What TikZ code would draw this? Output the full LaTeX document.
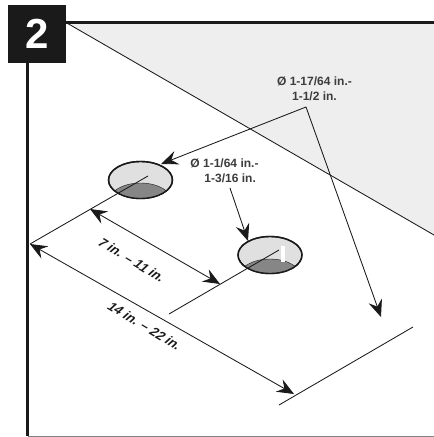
\documentclass[tikz,border=0pt]{standalone}
\usepackage{fontspec}
\setmainfont{Liberation Sans}
\usetikzlibrary{arrows.meta,shapes.geometric}

\definecolor{ink}{HTML}{1A1A1A}
\definecolor{wallgray}{HTML}{EEEEEE}
\definecolor{holegray}{HTML}{E0E0E0}
\definecolor{shadegray}{HTML}{868686}

\tikzset{
  wall/.style={line width=2.6pt,draw=ink},
  thin line/.style={line width=0.85pt,draw=ink},
  dim/.style={thin line,-{Stealth[length=17pt,width=14pt,inset=6pt]}},
  dimboth/.style={thin line,{Stealth[length=17pt,width=14pt,inset=6pt]}-{Stealth[length=17pt,width=14pt,inset=6pt]}},
  hole/.style={ellipse,draw=ink,line width=1.4pt,minimum width=64pt,minimum height=37pt,inner sep=0pt},
  label/.style={font=\bfseries\fontsize{12}{15}\selectfont,text=ink!85,inner sep=0pt},
  skewlabel/.style={label,font=\bfseries\fontsize{13}{15}\selectfont,text=ink,rotate=-31,xslant=0.3}
}

\begin{document}
\begin{tikzpicture}[x=1pt,y=-1pt]
  \useasboundingbox (0,0) rectangle (434,437);

  \coordinate (A) at (66,22.5);
  \coordinate (B) at (434,22.5);
  \coordinate (C) at (434,235);
  \coordinate (D) at (27.5,63);
  \coordinate (E) at (27.5,436);
  \coordinate (F) at (434,436);

  % wall, floor and corner
  \fill[wallgray] (A) -- (B) -- (C) -- cycle;
  \draw[thin line] (A) -- (C);
  \draw[gray,line width=1pt] (E) -- (F);
  \draw[wall] (A) -- (B);
  \draw[wall] (D) -- (E);

  \node[fill=ink,text=white,minimum size=58pt,inner sep=0pt,font=\bfseries\fontsize{42}{42}\selectfont] (N) at (37,34) {2};

  % holes
  \node[hole,fill=holegray] (H1) at (140.5,180) {};
  \node[hole,fill=holegray] (H2) at (270,255) {};
  \begin{scope}
    \clip (140.5,180) ellipse (32 and 18.5);
    \fill[shadegray,draw=ink] (140.5,202) ellipse (32 and 19);
  \end{scope}
  \begin{scope}
    \clip (270,255) ellipse (32 and 18.5);
    \fill[shadegray,draw=ink] (270,278) ellipse (32 and 19);
  \end{scope}
  \draw[white,line width=4pt] (283,246) -- (283,262);
  \node[hole] (H1b) at (140.5,180) {};
  \node[hole] (H2b) at (270,255) {};

  % dimension points
  \coordinate (P) at (148,176);
  \coordinate (Q) at (30,244);
  \coordinate (R) at (279,250);
  \coordinate (S) at (169,314);
  \coordinate (T) at (279,405);
  \coordinate (U) at (413,327);
  \coordinate (a) at (90,209);
  \coordinate (b) at (220,284);
  \coordinate (c) at (294,394);
  \coordinate (L) at (306,107);
  \coordinate (M) at (161,164);
  \coordinate (O) at (381,317);
  \coordinate (V) at (230,188);
  \coordinate (W) at (248,241);

  \draw[thin line] (P) -- (Q);
  \draw[thin line] (R) -- (S);
  \draw[thin line] (T) -- (U);
  \draw[dimboth] (a) -- (b);
  \draw[dimboth] (Q) -- (c);
  \draw[dim] (L) -- (M);
  \draw[dim] (L) -- (O);
  \draw[dim] (V) -- (W);

  % labels
  \node[label,align=center] (big) at (314.5,89) {Ø 1-17/64 in.-\\1-1/2 in.};
  \node[label,align=left] (small) at (224.5,170.5) {Ø 1-1/64 in.-\\\hspace*{14pt}1-3/16 in.};
  \node[skewlabel] (near) at (132,260) {7 in. -- 11 in.};
  \node[skewlabel] (far) at (145,326) {14 in. -- 22 in.};
\end{tikzpicture}
\end{document}
